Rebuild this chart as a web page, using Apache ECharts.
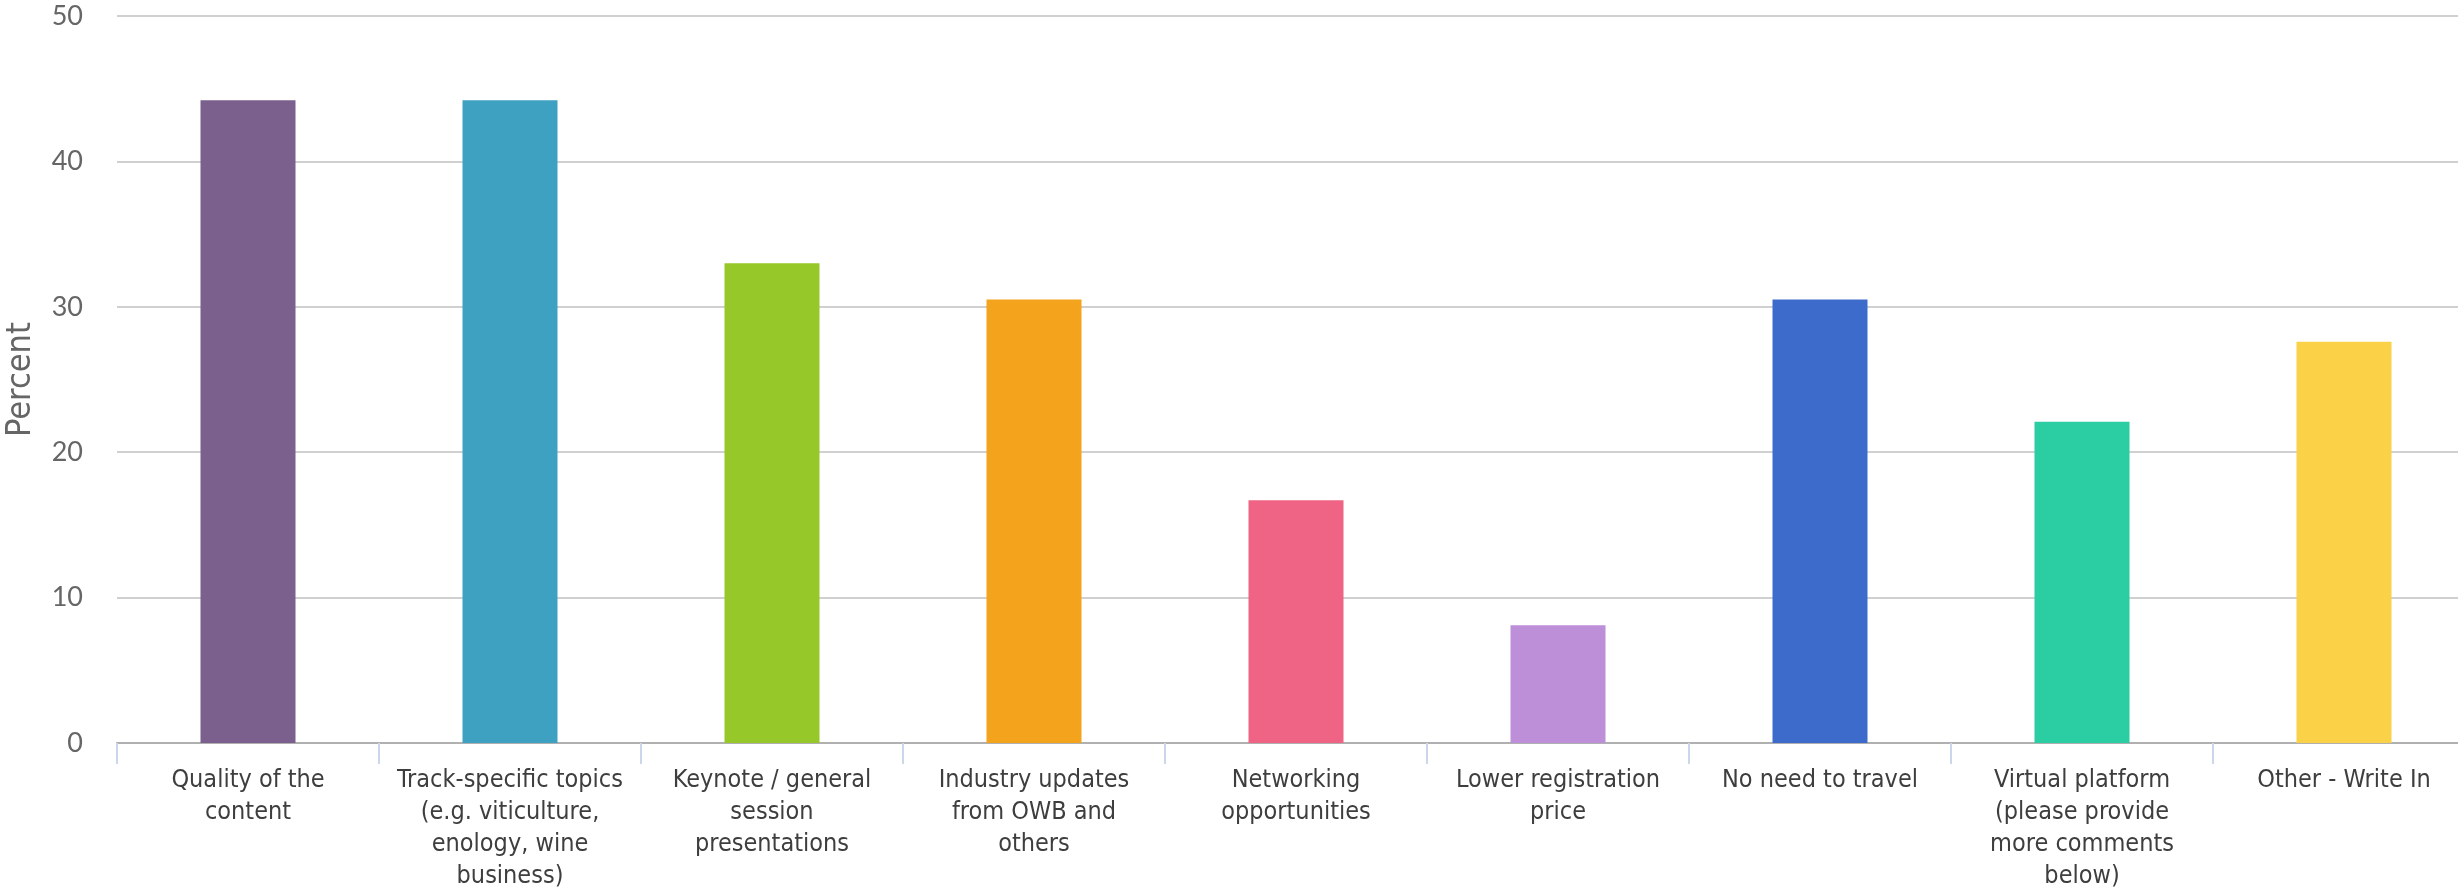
<!DOCTYPE html>
<html>
<head>
<meta charset="utf-8">
<title>Percent by reason</title>
<script src="https://cdn.jsdelivr.net/npm/echarts@6/dist/echarts.min.js"></script>
<style>
  html, body { margin: 0; padding: 0; background: #ffffff; overflow: hidden; }
  #chart { width: 2458px; height: 890px; }
</style>
</head>
<body>
<div id="chart"></div>
<script>
// Survey answers and the share of respondents (percent) choosing each
const categories = [
  'Quality of the\ncontent',
  'Track-specific topics\n(e.g. viticulture,\nenology, wine\nbusiness)',
  'Keynote / general\nsession\npresentations',
  'Industry updates\nfrom OWB and\nothers',
  'Networking\nopportunities',
  'Lower registration\nprice',
  'No need to travel',
  'Virtual platform\n(please provide\nmore comments\nbelow)',
  'Other - Write In'
];
const percentValues = [44.2, 44.2, 33.0, 30.5, 16.7, 8.1, 30.5, 22.1, 27.6];
const yTicks = [0, 10, 20, 30, 40, 50];

// One colour per bar
const palette = ['#7b5f8c', '#3fa1c2', '#97c82a', '#f4a41c', '#ef6384',
                 '#bd8fd8', '#3d6bcb', '#2bcda3', '#fad147'];

const labelFont = '"Liberation Sans Narrow", "DejaVu Sans Condensed", Lato, sans-serif';

const chart = echarts.init(document.getElementById('chart'), null, { renderer: 'canvas' });
chart.setOption({
  animation: false,
  backgroundColor: '#ffffff',
  // the last category runs a little past the right edge of the canvas
  grid: {
    left: 117, right: -17, top: 16, bottom: 147,
    containLabel: false,
    outerBoundsMode: 'none'
  },
  xAxis: {
    type: 'category',
    data: categories,
    axisLine: { show: true, lineStyle: { color: '#b0b0b0', width: 2 } },
    axisTick: { show: true, alignWithLabel: false, length: 21, lineStyle: { color: '#ccd6eb', width: 2 } },
    axisLabel: {
      interval: 0,
      margin: 21,
      color: '#3e3e3e',
      fontSize: 25,
      lineHeight: 32,
      fontFamily: labelFont
    },
    splitLine: { show: false }
  },
  yAxis: {
    type: 'value',
    min: yTicks[0],
    max: yTicks[yTicks.length - 1],
    interval: yTicks[1] - yTicks[0],
    name: 'Percent',
    nameLocation: 'middle',
    nameRotate: 90,
    nameGap: 79,
    nameTextStyle: { color: '#666666', fontSize: 34, fontFamily: labelFont },
    axisLine: { show: false },
    axisTick: { show: false },
    axisLabel: { margin: 34, color: '#666666', fontSize: 27, fontFamily: 'Lato, sans-serif' },
    splitLine: { show: true, lineStyle: { color: '#d0d0d0', width: 2 } }
  },
  series: [{
    type: 'bar',
    barWidth: 95,
    data: percentValues.map((v, i) => ({ value: v, itemStyle: { color: palette[i] } }))
  }]
});
</script>
</body>
</html>
